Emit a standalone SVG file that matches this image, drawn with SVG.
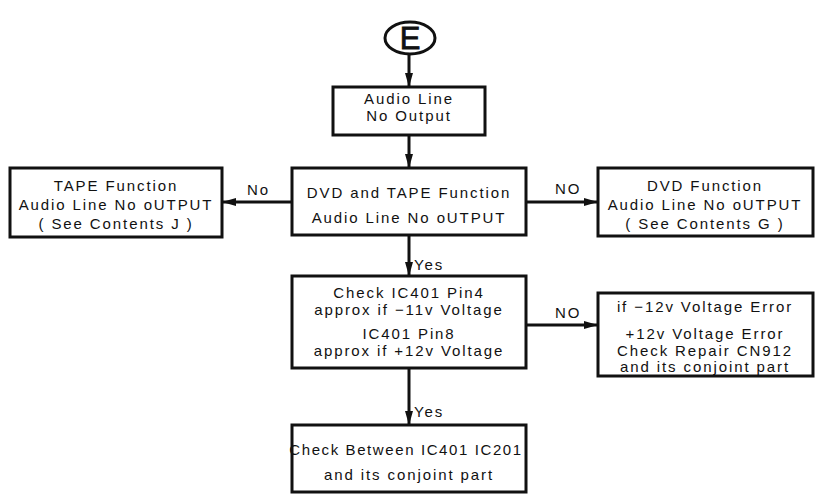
<svg xmlns="http://www.w3.org/2000/svg" width="827" height="495" viewBox="0 0 827 495">
<style>
.box{fill:#fff;stroke:#111;stroke-width:3}
.ln{stroke:#111;stroke-width:3;fill:none}
text{font-family:"Liberation Sans",Arial,sans-serif;font-size:15px;fill:#111;letter-spacing:1.9px;text-anchor:middle}
.lbl{text-anchor:start}
</style>
<defs>
<marker id="ah" markerWidth="14" markerHeight="8" refX="14" refY="4" orient="auto" markerUnits="userSpaceOnUse">
<path d="M0,0 L14,4 L0,8 Z" fill="#111"/>
</marker>
</defs>
<g id="connectors">
<line class="ln" x1="409" y1="54" x2="409" y2="87" marker-end="url(#ah)"/>
<line class="ln" x1="409" y1="135" x2="409" y2="168" marker-end="url(#ah)"/>
<line class="ln" x1="292" y1="202" x2="222" y2="202" marker-end="url(#ah)"/>
<line class="ln" x1="526" y1="202" x2="598" y2="202" marker-end="url(#ah)"/>
<line class="ln" x1="409" y1="235" x2="409" y2="276" marker-end="url(#ah)"/>
<line class="ln" x1="526" y1="325" x2="598" y2="325" marker-end="url(#ah)"/>
<line class="ln" x1="409" y1="368" x2="409" y2="425" marker-end="url(#ah)"/>
<text class="lbl" x="247" y="195">No</text>
<text class="lbl" x="555" y="194">NO</text>
<text class="lbl" x="555" y="318">NO</text>
<text class="lbl" x="414" y="270">Yes</text>
<text class="lbl" x="414" y="417">Yes</text>
</g>
<g id="nodeE">
<ellipse cx="410" cy="38" rx="25" ry="16" fill="#fff" stroke="#111" stroke-width="3"/>
<text x="410" y="49" style="font-size:31px;letter-spacing:0;stroke:#111;stroke-width:0.8">E</text>
</g>
<g id="audioLine">
<rect class="box" x="333" y="87" width="152" height="48"/>
<text x="409" y="104">Audio Line</text>
<text x="409" y="121">No Output</text>
</g>
<g id="dvdTape">
<rect class="box" x="292" y="168" width="234" height="67"/>
<text x="409" y="198">DVD and TAPE Function</text>
<text x="409" y="223">Audio Line No oUTPUT</text>
</g>
<g id="tape">
<rect class="box" x="10" y="168" width="212" height="69"/>
<text x="116" y="191">TAPE Function</text>
<text x="116" y="210">Audio Line No oUTPUT</text>
<text x="116" y="229">( See Contents J )</text>
</g>
<g id="dvd">
<rect class="box" x="598" y="168" width="215" height="68"/>
<text x="705" y="191">DVD Function</text>
<text x="705" y="210">Audio Line No oUTPUT</text>
<text x="705" y="229">( See Contents G )</text>
</g>
<g id="checkIC">
<rect class="box" x="292" y="276" width="234" height="92"/>
<text x="409" y="298">Check IC401 Pin4</text>
<text x="409" y="315">approx if −11v Voltage</text>
<text x="409" y="339">IC401 Pin8</text>
<text x="409" y="356">approx if +12v Voltage</text>
</g>
<g id="voltErr">
<rect class="box" x="598" y="293" width="215" height="83"/>
<text x="705" y="312">if −12v Voltage Error</text>
<text x="705" y="339">+12v Voltage Error</text>
<text x="705" y="356">Check Repair CN912</text>
<text x="705" y="372">and its conjoint part</text>
</g>
<g id="checkBetween">
<rect class="box" x="292" y="425" width="234" height="67"/>
<text x="406" y="455" style="letter-spacing:1.6px">Check Between IC401 IC201</text>
<text x="409" y="480">and its conjoint part</text>
</g>
</svg>
